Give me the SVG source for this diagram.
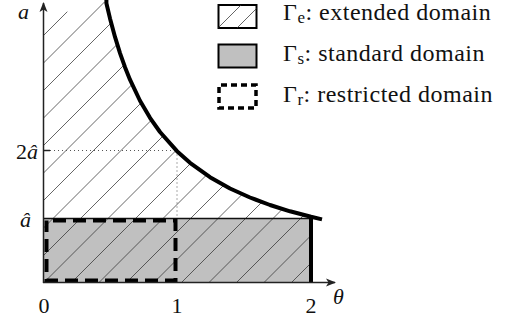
<svg xmlns="http://www.w3.org/2000/svg" width="516" height="320" viewBox="0 0 516 320">
<style>
.it{font-style:italic}
.lab{font-size:22px;fill:#111}
.leg{font-size:24px;fill:#111;letter-spacing:0.5px}
.hatch{stroke:#333;stroke-width:0.75;fill:none}
.axis{stroke:#222;stroke-width:1.5;fill:none}
.dot{stroke:#555;stroke-width:1;stroke-dasharray:1 3;fill:none}
</style>
<defs>
<marker id="arr" viewBox="0 0 10 10" refX="9" refY="5" markerWidth="10" markerHeight="10" markerUnits="userSpaceOnUse" orient="auto">
<path d="M0,1 L10,5 L0,9 L2.5,5 Z" fill="#222"/>
</marker>
<clipPath id="regionClip">
<path d="M44,282 L44,2 L106.4,2 L106.4,3.2 L110,18.4 L115,36.9 L120,53.1 L125,67.2 L130,79.7 L140,100.75 L150,117.8 L160,132 L177,151.2 L190,162.8 L210,177.2 L230,188.5 L250,197.5 L270,205 L290,211.3 L311,216.8 L311,282 Z"/>
</clipPath>
<clipPath id="box1Clip"><rect x="218.5" y="5" width="38" height="23"/></clipPath>
</defs>

<g id="standard-domain">
<rect x="44" y="218.5" width="267" height="64" fill="#c0c0c0"/>
</g>

<g id="extended-domain">
<g clip-path="url(#regionClip)" class="hatch">
<path d="M44,35 L67.3,11.7"/>
<path d="M-175.5,282 L106.5,0"/>
<path d="M-148,282 L134,0"/>
<path d="M-120.5,282 L161.5,0"/>
<path d="M-93,282 L189,0"/>
<path d="M-65.5,282 L216.5,0"/>
<path d="M-38,282 L244,0"/>
<path d="M-10.5,282 L271.5,0"/>
<path d="M17,282 L299,0"/>
<path d="M44.5,282 L326.5,0"/>
<path d="M72,282 L354,0"/>
<path d="M99.5,282 L381.5,0"/>
<path d="M127,282 L409,0"/>
<path d="M154.5,282 L436.5,0"/>
<path d="M182,282 L464,0"/>
<path d="M209.5,282 L491.5,0"/>
<path d="M237,282 L519,0"/>
<path d="M264.5,282 L546.5,0"/>
<path d="M292,282 L574,0"/>
</g>
</g>

<g id="connectors">
<line x1="44" y1="218.5" x2="311" y2="218.5" stroke="#111" stroke-width="1.5"/>
<line x1="50" y1="150.5" x2="177" y2="150.5" class="dot"/>
<line x1="177" y1="150.5" x2="177" y2="218" class="dot"/>
<path d="M106.4,0 L106.4,3.2 L110,18.4 L115,36.9 L120,53.1 L125,67.2 L130,79.7 L140,100.75 L150,117.8 L160,132 L177,151.2 L190,162.8 L210,177.2 L230,188.5 L250,197.5 L270,205 L290,211.3 L311,216.8 L322,219.4" fill="none" stroke="#000" stroke-width="4" stroke-linejoin="round"/>
<line x1="311" y1="217" x2="311" y2="282.5" stroke="#000" stroke-width="4"/>
<path d="M46.5,220.5 H175.5 V280.5 H46.5 Z" fill="none" stroke="#000" stroke-width="4" stroke-dasharray="13 7" stroke-dashoffset="-6.5"/>
<line x1="43.5" y1="283" x2="43.5" y2="3" class="axis" marker-end="url(#arr)"/>
<line x1="43" y1="282.5" x2="335" y2="282.5" class="axis" marker-end="url(#arr)"/>
<line x1="43.5" y1="150.5" x2="50" y2="150.5" class="axis"/>
</g>

<g id="axis-labels">
<text x="18" y="19" class="lab it" font-family="Liberation Serif">a</text>
<text x="38" y="159" class="lab" text-anchor="end" font-family="Liberation Serif">2<tspan class="it">â</tspan></text>
<text x="31" y="227" class="lab it" text-anchor="end" font-family="Liberation Serif">â</text>
<text x="44" y="313" class="lab" text-anchor="middle" font-family="Liberation Serif">0</text>
<text x="177" y="313" class="lab" text-anchor="middle" font-family="Liberation Serif">1</text>
<text x="311" y="313" class="lab" text-anchor="middle" font-family="Liberation Serif">2</text>
<text x="333" y="304" class="lab it" font-family="Liberation Serif">θ</text>
</g>

<g id="legend-extended">
<rect x="218.5" y="5" width="38" height="23" fill="#fff" stroke="#000" stroke-width="2"/>
<g clip-path="url(#box1Clip)" class="hatch">
<path d="M216,30 L242,4"/>
<path d="M235,30 L261,4"/>
</g>
<text x="283" y="20" class="leg" font-family="Liberation Serif">Γ<tspan font-size="17" dy="3">e</tspan><tspan dy="-3">: extended domain</tspan></text>
</g>

<g id="legend-standard">
<rect x="218.5" y="44.5" width="38" height="23" fill="#c0c0c0" stroke="#000" stroke-width="2"/>
<text x="283" y="61" class="leg" font-family="Liberation Serif">Γ<tspan font-size="17" dy="3">s</tspan><tspan dy="-3">: standard domain</tspan></text>
</g>

<g id="legend-restricted">
<rect x="219" y="85" width="37" height="23" fill="none" stroke="#000" stroke-width="3.5" stroke-dasharray="6 4" stroke-dashoffset="-2"/>
<text x="283" y="102" class="leg" font-family="Liberation Serif">Γ<tspan font-size="17" dy="3">r</tspan><tspan dy="-3">: restricted domain</tspan></text>
</g>
</svg>
